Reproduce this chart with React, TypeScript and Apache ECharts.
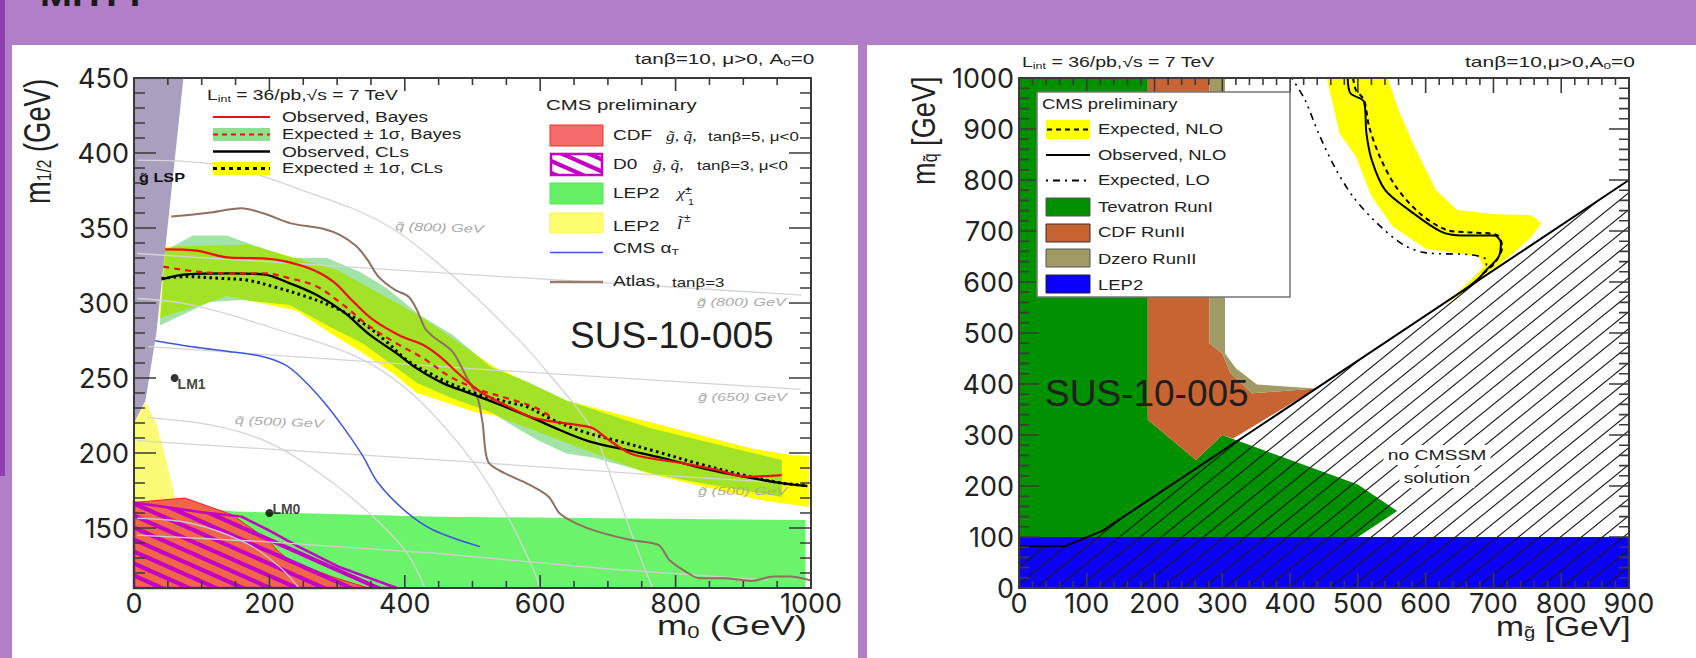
import React, { useEffect, useRef } from "react";
import * as echarts from "echarts";

type P = [number, number];

// ---------- left plot (m0, m1/2) ----------
const leftXMajor = [0, 200, 400, 600, 800, 1000];
const leftXMinor = [50, 100, 150, 250, 300, 350, 450, 500, 550, 650, 700, 750, 850, 900, 950];
const leftYMajor = [150, 200, 250, 300, 350, 400, 450];
const leftYMinor = [110, 120, 130, 140, 160, 170, 180, 190, 210, 220, 230, 240, 260, 270, 280, 290, 310, 320, 330, 340, 360, 370, 380, 390, 410, 420, 430, 440];
const lspRegion: P[] = [[0, 450], [73, 450], [33, 280], [17, 235], [0, 220]];
const lepStop: P[] = [[0, 220], [17, 234], [33, 220], [49, 193], [60, 171], [60, 165], [0, 165]];
const lepChargino: P[] = [[0, 110], [992, 110], [992, 155.3], [450, 157.5], [150, 161], [60, 165], [0, 165]];
const cdfRegion: P[] = [[0, 167], [75, 170], [144, 159], [198, 142], [213, 134.6], [228, 129], [267, 122], [292, 117.6], [346, 110], [0, 110]];
const d0Region: P[] = [[0, 167], [100, 160.5], [159, 157.6], [198, 148.7], [243, 137.6], [302, 124.2], [388, 110], [0, 110]];
const yellowUpper: P[] = [[46, 337.5], [168, 339], [216, 333], [300, 322], [420, 292], [530, 258], [639, 235], [912, 203], [969, 198.7], [997, 198]];
const yellowLower: P[] = [[997, 164], [921, 169], [758, 186.5], [531, 225.3], [506, 227], [418, 240], [383, 253], [338, 266.7], [290, 280], [240, 295], [137, 304.7], [112, 300.7], [38, 290]];
const greenUpper: P[] = [[46, 335], [87, 345], [137, 345], [176, 338.6], [235, 330], [285, 330], [334, 320.7], [373, 310], [422, 292], [471, 278.6], [526, 257.6], [585, 246.6], [639, 235], [762, 216.6], [957, 195.3]];
const greenLower: P[] = [[957, 170.7], [836, 180], [762, 186.6], [678, 197], [639, 199.6], [600, 207.6], [565, 216.6], [530, 226.6], [467, 237], [418, 246.6], [338, 273], [290, 284], [230, 298.7], [157, 302], [112, 300.7], [38, 285]];
const observedBayes: P[] = [[46, 335.8], [92.6, 334.9], [142, 330.2], [191, 329.8], [225.5, 327.6], [265, 322], [294.5, 314.2], [324, 300.9], [353.5, 288.7], [393, 278.2], [427.4, 272], [452, 264.2], [481.6, 252], [511, 241], [550.5, 231.5], [585, 224.2], [619.4, 220.9], [654, 218.7], [678.5, 216.4], [698, 209.8], [732.7, 199.8], [762, 196.5], [811.5, 193.1], [860.7, 188.7], [905, 184.2], [956.7, 185.3]];
const expectedBayes: P[] = [[43.3, 324.2], [92.6, 320.9], [142, 319.8], [191, 319.8], [230.5, 316.4], [270, 311], [309, 298.7], [348.6, 284.2], [388, 273], [427.4, 263.1], [467, 250.9], [511, 242], [555, 236], [595, 229.8], [619.4, 223]];
const observedCLs: P[] = [[40.9, 315.8], [77.8, 319.1], [142, 319.8], [191, 319.1], [230.5, 313.1], [270, 305.3], [309, 294.2], [348.6, 278.7], [388, 266.4], [417.6, 256.4], [457, 246.4], [496.4, 239.8], [535.8, 233], [590, 223.1], [629, 215.3], [673.6, 207.6], [727.8, 202], [782, 196.5], [841, 189.8], [900, 184.2], [959, 179.8], [994.7, 178]];
const expectedCLs: P[] = [[40.9, 316.4], [77.8, 317.6], [127, 316.4], [166.4, 315.3], [205.8, 310.9], [255, 304.2], [299.4, 296.4], [338.8, 286.4], [373, 274.2], [402.8, 262], [437, 253.1], [467, 246.4], [511, 238.7], [560, 233.1], [580, 230.9], [619.4, 222], [663.8, 214.2], [718, 207.6], [772, 200.9], [841, 192], [900, 185.3], [959, 179.8], [995, 178.5]];
const atlas: P[] = [[55, 357.6], [110, 360.2], [158.6, 363.1], [191, 359.8], [231.6, 353.1], [276, 349.8], [304.7, 345.3], [329, 337.6], [345, 328.7], [361, 317.6], [385.5, 308.7], [405.7, 304.2], [418, 295.3], [430, 283], [442, 277.5], [470.5, 267.6], [490.8, 250.9], [507, 237.6], [515, 219.8], [523, 194.2], [547.6, 186.5], [580, 179.8], [612.4, 170.9], [628.6, 159.8], [653, 153.1], [685, 147.6], [734, 142], [774.6, 138.7], [790.8, 128.7], [815, 120.9], [835, 116.5], [871.6, 116.5], [912, 114.7], [944.6, 117.6], [969, 117.6], [1000, 115]];
const cmsAlphaT: P[] = [[31.4, 274.9], [85.7, 270.9], [150.6, 267.1], [191, 264.2], [223.5, 258.7], [247.8, 249.8], [280, 234.2], [308.5, 217.6], [337, 198.7], [361, 179.8], [401.7, 160.9], [442, 148.7], [511, 137.6]];
const squark800: P[] = [[4.6, 395.3], [126, 392], [248, 375.3], [369, 353], [466.3, 319.8], [563.8, 277.6], [612.4, 253], [677, 215.3], [709.6, 177.6], [740, 140], [766, 110]];
const squark650: P[] = [[4.6, 303], [85.7, 298.7], [207, 283], [328.7, 264.2], [410, 239.8], [499, 195.3], [552, 157.6], [588, 124.2], [600, 110]];
const squark500: P[] = [[21, 223.6], [126, 217.6], [207, 205.3], [288, 182], [353, 157.6], [401.7, 134.2], [430, 110]];
const squark400: P[] = [[5, 156.5], [85.7, 153], [166.4, 139.8], [215, 124.2], [243.5, 110]];
const gluino800: P[] = [[4.6, 333], [466, 319.8], [985.6, 305.3]];
const gluino650: P[] = [[21, 270.9], [531, 255.3], [985, 242.4]];
const gluino500: P[] = [[4.6, 208.2], [490.8, 194.2], [774.5, 185.3], [969, 179.8]];
const gluino350: P[] = [[4.6, 145.3], [191, 140.9], [450, 133], [693, 123], [936, 115.3]];
const lm1: [number, number] = [60, 250];
const lm0: [number, number] = [200, 160];

// ---------- right plot (m_gluino, m_squark) ----------
const rightXMajor = [0, 100, 200, 300, 400, 500, 600, 700, 800, 900];
const rightXMinor = [20, 40, 60, 80, 120, 140, 160, 180, 220, 240, 260, 280, 320, 340, 360, 380, 420, 440, 460, 480, 520, 540, 560, 580, 620, 640, 660, 680, 720, 740, 760, 780, 820, 840, 860, 880];
const rightYMajor = [0, 100, 200, 300, 400, 500, 600, 700, 800, 900, 1000];
const rightYMinor = [20, 40, 60, 80, 120, 140, 160, 180, 220, 240, 260, 280, 320, 340, 360, 380, 420, 440, 460, 480, 520, 540, 560, 580, 620, 640, 660, 680, 720, 740, 760, 780, 820, 840, 860, 880, 920, 940, 960, 980];
const tevatron: P[] = [[0, 1000], [190, 1000], [190, 330], [261, 251], [300, 300], [500, 203], [558, 151], [500, 100], [0, 100]];
const cdfRun2: P[] = [[190, 1000], [281, 1000], [281, 480], [300, 460], [312, 421], [344, 382], [438, 391], [316, 293], [300, 300], [261, 251], [190, 330]];
const dzeroRun2: P[] = [[281, 1000], [304, 1000], [304, 460], [320, 431], [351, 399], [438, 391], [344, 382], [312, 421], [300, 460], [281, 480]];
const lep2Blue: P[] = [[0, 0], [900, 0], [900, 100], [0, 100]];
const noSolution: P[] = [[0, 82], [68, 82], [123, 112], [900, 800], [900, 0], [0, 0]];
const noSolutionEdge: P[] = [[0, 82], [68, 82], [123, 112], [900, 800]];
const nloBand: P[] = [[454, 1000], [473, 891.5], [497, 846], [520.5, 767], [552, 708.5], [599, 666], [678, 650], [686, 630], [631, 558], [646, 571], [697.5, 623.6], [729, 656], [756.5, 689], [770.6, 715], [756.5, 731], [701.5, 733], [646.4, 741], [615, 780.5], [583.5, 865], [560, 937], [544, 1000]];
const observedNLO: P[] = [[485, 1000], [489, 970], [509, 953.6], [512.6, 891.5], [520.5, 839], [540, 780.5], [575.6, 741], [622.8, 698.7], [654, 691], [701.5, 691], [711, 676], [707.7, 649.7], [689.6, 623.6], [678, 607], [654, 581]];
const expectedNLO: P[] = [[493, 1000], [497, 976.5], [509, 957], [516.6, 904.6], [532.3, 846], [556, 787], [591, 735], [630.7, 702], [670, 697], [705.4, 692], [713, 669], [701.5, 636.7], [681.8, 613.8]];
const expectedLO: P[] = [[402.5, 1000], [422, 957], [442, 891.5], [465.5, 826], [493, 767], [528.4, 715], [567.7, 672.6], [599, 657.6], [670, 653], [689.6, 643], [689.6, 630]];

const SANS = "Liberation Sans";
const AXIS_FONT = "Inter";
const AXIS = "#3a3a3a";

function stripes(w: number, h: number, lw: number, color: string, phase: number, up: boolean, bg?: string) {
  const c = document.createElement("canvas");
  c.width = w;
  c.height = h;
  const g = c.getContext("2d")!;
  if (bg) {
    g.fillStyle = bg;
    g.fillRect(0, 0, w, h);
  }
  g.strokeStyle = color;
  g.lineWidth = lw;
  for (let k = -4; k <= 4; k++) {
    const o = (k + phase) * w;
    g.beginPath();
    if (up) {
      g.moveTo(o - w, 2 * h);
      g.lineTo(o + 2 * w, -h);
    } else {
      g.moveTo(o - w, -h);
      g.lineTo(o + 2 * w, 2 * h);
    }
    g.stroke();
  }
  return { image: c, repeat: "repeat" };
}

function poly(pts: P[], grid: number, fill: any, extra: any = {}) {
  return {
    type: "custom",
    xAxisIndex: grid * 2,
    yAxisIndex: grid * 2,
    silent: true,
    data: pts,
    encode: { x: 0, y: 1 },
    renderItem: (params: any, api: any) => {
      if (params.dataIndex !== 0) return undefined;
      return {
        type: "polygon",
        shape: { points: pts.map((d) => api.coord(d)) },
        style: { fill, ...extra },
      };
    },
  };
}

function curve(pts: any[], grid: number, color: string, width: number, type: any = "solid", smooth: number = 0.35) {
  return {
    type: "line",
    xAxisIndex: grid * 2,
    yAxisIndex: grid * 2,
    silent: true,
    data: pts,
    showSymbol: false,
    smooth,
    lineStyle: { color, width, type, cap: "butt" },
  };
}

// Tick marks as broken line series in data units, on all four sides of a plot.
// xLen and yLen are tick lengths expressed in the units of the crossing axis.
function tickMarks(grid: number, xs: number[][], ys: number[][], xr: P, yr: P, xLen: P, yLen: P) {
  const data: any[] = [];
  const gap = ["-", "-"];
  xs.forEach((vals, i) =>
    vals.forEach((v) => {
      data.push([v, yr[0]], [v, yr[0] + xLen[i]], gap, [v, yr[1]], [v, yr[1] - xLen[i]], gap);
    })
  );
  ys.forEach((vals, i) =>
    vals.forEach((v) => {
      data.push([xr[0], v], [xr[0] + yLen[i], v], gap, [xr[1], v], [xr[1] - yLen[i], v], gap);
    })
  );
  return { ...curve(data, grid, AXIS, 1.6, "solid", 0), connectNulls: false, z: 5 };
}

function txt(text: string, x: number, y: number, size: number, o: any = {}) {
  return {
    type: "text",
    x,
    y,
    z: 102,
    silent: true,
    scaleX: o.sx ?? 1,
    scaleY: o.sy ?? 1,
    rotation: o.rotation ?? 0,
    style: {
      text,
      fontSize: size,
      fontFamily: o.font ?? SANS,
      fontWeight: o.weight ?? "normal",
      fontStyle: o.italic ? "italic" : "normal",
      fill: o.color ?? "#222",
      align: o.align ?? "left",
      verticalAlign: o.valign ?? "middle",
      rich: o.rich,
      backgroundColor: o.bg,
      padding: o.padding,
    },
  };
}

function rect(x: number, y: number, w: number, h: number, fill: any, stroke?: string, lineWidth = 1, z = 102) {
  return { type: "rect", z, silent: true, shape: { x, y, width: w, height: h }, style: { fill, stroke, lineWidth } };
}
function seg(x1: number, x2: number, y: number, stroke: string, lineWidth: number, lineDash?: number[]) {
  return { type: "line", z: 103, silent: true, shape: { x1, y1: y, x2, y2: y }, style: { stroke, lineWidth, lineDash } };
}

function sub(size: number, subSize: number, drop: number, font = SANS, color = "#222") {
  return {
    a: { fontSize: size, fontFamily: font, fill: color, lineHeight: size + 2, verticalAlign: "top" },
    s: { fontSize: subSize, fontFamily: font, fill: color, lineHeight: size + 2 + 2 * drop, verticalAlign: "middle" },
  };
}

const axisLine = { show: true, onZero: false, lineStyle: { color: AXIS, width: 2 } };
const labelStyle = { color: "#222", fontFamily: AXIS_FONT, fontSize: 27, hideOverlap: false, formatter: (v: number) => String(v) };

function xAxes(grid: number, min: number, max: number, interval: number) {
  const base = { gridIndex: grid, type: "value", min, max, interval, z: 50, splitLine: { show: false }, axisLine, axisTick: { show: false } };
  return [
    { ...base, position: "bottom", axisLabel: { show: true, margin: 2, ...labelStyle } },
    { ...base, position: "top", axisLabel: { show: false } },
  ];
}

function yAxes(grid: number, min: number, max: number, majors: number[]) {
  const base = { gridIndex: grid, type: "value", min, max, z: 50, splitLine: { show: false }, axisLine, axisTick: { show: false } };
  return [
    { ...base, position: "left", axisLabel: { show: true, customValues: majors, margin: 5, ...labelStyle } },
    { ...base, position: "right", axisLabel: { show: false } },
  ];
}

export default function App() {
  const ref = useRef<HTMLDivElement>(null);
  useEffect(() => {
    document.body.style.margin = "0";
    document.body.style.overflow = "hidden";
    const chart = echarts.init(ref.current!, undefined, { renderer: "svg" });
    const d0Stripe = stripes(27, 12, 4.2, "#c400c4", 0, false);
    const d0Legend = stripes(27, 12, 4.2, "#c400c4", 0, false, "#ffffff");
    const hatch = stripes(21, 17, 1.1, "#1a1a1a", 0.9, true);
    const sc = 1.36;
    const graphic: any[] = [
      rect(0, 0, 5, 476, "#8f3fb0", undefined, 0, -9),
      rect(12, 45, 846, 613, "#ffffff", undefined, 0, -9),
      rect(867, 45, 829, 613, "#ffffff", undefined, 0, -9),
      txt("MHTT", 40, 11, 30, { valign: "bottom", weight: "bold", color: "#1a1a1a", sx: 1.28 }),

      // left plot texts
      txt("{a|tanβ=10, μ>0, A}{s|0}{a|=0}", 635, 63, 14, { sx: 1.48, rich: sub(14, 9, 3) }),
      txt("{a|L}{s|int}{a| = 36/pb,√s = 7 TeV}", 207, 99, 14, { sx: 1.38, rich: sub(14, 9, 3) }),
      seg(213, 270, 117, "#e81010", 2),
      txt("Observed, Bayes", 282, 117, 14, { sx: sc }),
      rect(213, 128, 57, 13, "#8ee08e"),
      seg(213, 270, 134.5, "#e81010", 2, [5, 4]),
      txt("Expected ± 1σ, Bayes", 282, 134, 14, { sx: sc - 0.05 }),
      seg(213, 270, 151.5, "#000", 2.5),
      txt("Observed, CLs", 282, 152, 14, { sx: sc }),
      rect(213, 162, 57, 13, "#ffff00"),
      seg(213, 270, 168.5, "#000", 3, [4, 4]),
      txt("Expected ± 1σ, CLs", 282, 168, 14, { sx: sc - 0.05 }),
      txt("CMS preliminary", 546, 105, 15, { sx: 1.36 }),
      rect(550, 125, 53, 21, "#f56a6a", "#f03030"),
      txt("CDF", 613, 135, 14, { sx: sc }),
      txt("g̃, q̃,", 666, 136, 14, { sx: 1.25, font: "Liberation Serif", italic: true }),
      txt("tanβ=5, μ<0", 708, 136, 13, { sx: 1.3 }),
      rect(551, 154, 51, 21, d0Legend, "#c400c4", 2.5),
      txt("D0", 613, 164, 14, { sx: sc }),
      txt("g̃, q̃,", 653, 165, 14, { sx: 1.25, font: "Liberation Serif", italic: true }),
      txt("tanβ=3, μ<0", 697, 165, 13, { sx: 1.3 }),
      rect(550, 183, 53, 21, "#66f066", "#55e855"),
      txt("LEP2", 613, 193, 14, { sx: sc }),
      txt("{a|χ̃}{s|±}", 677, 193, 15, { sx: 1.2, font: "Liberation Serif", rich: { a: { fontSize: 15, fontFamily: "Liberation Serif", fill: "#222", fontStyle: "italic" }, s: { fontSize: 10, fontFamily: SANS, fill: "#222", verticalAlign: "top" } } }),
      txt("1", 688, 202, 9, { sx: 1.2 }),
      rect(550, 213, 53, 20, "#fdfd70", "#f4f450"),
      txt("LEP2", 613, 226, 14, { sx: sc }),
      txt("l̃", 677, 224, 15, { sx: 1.2, font: "Liberation Serif", italic: true }),
      txt("±", 684, 218, 10, { sx: 1.2 }),
      seg(550, 603, 252.5, "#3d55e0", 1.5),
      txt("{a|CMS α}{s|T}", 613, 252, 14, { sx: sc, rich: sub(14, 9, 3) }),
      seg(550, 603, 282, "#9a7b6c", 2.5),
      txt("Atlas,", 613, 281, 14, { sx: sc }),
      txt("tanβ=3", 672, 282, 13, { sx: 1.3 }),
      txt("SUS-10-005", 570, 335, 37, { color: "#1f1f1f" }),
      txt("q̃ (800) GeV", 395, 226, 11.5, { sx: 1.42, italic: true, color: "#aaa", rotation: -0.03 }),
      txt("g̃ (800) GeV", 697, 302, 11.5, { sx: 1.42, italic: true, color: "#aaa" }),
      txt("g̃ (650) GeV", 698, 397, 11.5, { sx: 1.42, italic: true, color: "#aaa" }),
      txt("g̃ (500) GeV", 698, 491, 11.5, { sx: 1.42, italic: true, color: "#aaa" }),
      txt("q̃ (500) GeV", 235, 420, 11.5, { sx: 1.42, italic: true, color: "#aaa", rotation: -0.04 }),
      txt("g̃ LSP", 139, 178, 13, { weight: "bold", color: "#111", sx: 1.25 }),
      txt("{a|m}{s|1/2}{a| (GeV)}", 44, 204, 37, { sx: 0.74, rotation: Math.PI / 2, rich: sub(37, 21, 6) }),
      txt("{a|m}{s|0}{a| (GeV)}", 657, 632, 28, { sx: 1.3, rich: sub(28, 17, 5) }),

      // right plot legend
      rect(1037, 92, 253, 205, "#ffffff", "#777", 1.5, 101),
      txt("CMS preliminary", 1042, 104, 14, { sx: 1.31 }),
      rect(1046, 120, 44, 19, "#ffff00"),
      seg(1047, 1090, 129.5, "#000", 2, [5, 4]),
      txt("Expected, NLO", 1098, 129, 14, { sx: 1.32 }),
      seg(1046, 1090, 155, "#000", 2),
      txt("Observed, NLO", 1098, 155, 14, { sx: 1.32 }),
      seg(1046, 1088, 180.5, "#000", 2, [2, 5, 7, 5]),
      txt("Expected, LO", 1098, 180, 14, { sx: 1.32 }),
      rect(1046, 198, 44, 18, "#009000", "#555"),
      txt("Tevatron RunI", 1098, 207, 14, { sx: 1.32 }),
      rect(1046, 224, 44, 18, "#c86432", "#333"),
      txt("CDF RunII", 1098, 232, 14, { sx: 1.32 }),
      rect(1046, 249, 44, 18, "#a09a64", "#555"),
      txt("Dzero RunII", 1098, 259, 14, { sx: 1.32 }),
      rect(1046, 275, 44, 18, "#0a00fb", "#222"),
      txt("LEP2", 1098, 285, 14, { sx: 1.32 }),
      txt("{a|L}{s|int}{a| = 36/pb,√s = 7 TeV}", 1022, 66, 14, { sx: 1.39, rich: sub(14, 9, 3) }),
      txt("{a|tanβ=10,μ>0,A}{s|0}{a|=0}", 1465, 66, 14, { sx: 1.5, rich: sub(14, 9, 3) }),
      txt("SUS-10-005", 1045, 393, 37, { color: "#1f1f1f" }),
      txt("no CMSSM", 1437, 455, 14, { sx: 1.38, align: "center", bg: "#fff", padding: [3, 3] }),
      txt("solution", 1437, 478, 14, { sx: 1.38, align: "center", bg: "#fff", padding: [3, 3] }),
      txt("{a|m}{s|q̃}{a| [GeV]}", 930, 185, 34, { sx: 0.8, rotation: Math.PI / 2, rich: sub(34, 20, 6) }),
      txt("{a|m}{s|g̃}{a| [GeV]}", 1496, 632, 28, { sx: 1.2, rich: sub(28, 17, 5) }),
    ];

    const gray = "#d4d4d4";
    const left = 0;
    const right = 1;
    const benchLabel = { show: true, formatter: "{b}", color: "#111", fontFamily: SANS, fontWeight: "bold", fontSize: 14 };
    const series: any[] = [
      poly(lepStop, left, "#fbfb78"),
      poly(lepChargino, left, "#6cf36c"),
      poly(cdfRegion, left, "#ef6648", { stroke: "#ee2020", lineWidth: 1 }),
      poly(d0Region, left, d0Stripe, { stroke: "#c400c4", lineWidth: 2.5 }),
      curve(squark800, left, gray, 1.3),
      curve(squark650, left, gray, 1.3),
      curve(squark500, left, gray, 1.3),
      curve(squark400, left, "#cfc0d8", 1.3),
      curve(gluino800, left, gray, 1.3, "solid", 0),
      curve(gluino650, left, gray, 1.3, "solid", 0),
      curve(gluino500, left, gray, 1.3, "solid", 0),
      curve(gluino350, left, "#cfcfcf", 1.3, "solid", 0),
      poly([...yellowUpper, ...yellowLower], left, "#ffff00"),
      curve(atlas, left, "#8f6f60", 2, "solid", 0.3),
      curve(observedCLs, left, "#000", 2.3),
      curve(expectedCLs, left, "#000", 3, [2.5, 3.5]),
      poly([...greenUpper, ...greenLower], left, "rgba(70,200,80,0.5)"),
      curve(cmsAlphaT, left, "#3d55e0", 1.5),
      curve(observedBayes, left, "#ee1010", 2.2),
      curve(expectedBayes, left, "#ee1010", 2.2, [6, 5]),
      poly(lspRegion, left, "#a8a0be"),
      {
        type: "scatter",
        xAxisIndex: 0,
        yAxisIndex: 0,
        silent: true,
        symbolSize: 8,
        itemStyle: { color: "#000" },
        data: [
          { value: lm1, name: "LM1", label: { ...benchLabel, position: [7, 3] } },
          { value: lm0, name: "LM0", label: { ...benchLabel, position: [7, -7] } },
        ],
      },
      tickMarks(left, [leftXMajor, leftXMinor], [leftYMajor, leftYMinor], [0, 1000], [110, 450], [8.7, 4.7], [32.5, 16.2]),

      poly(tevatron, right, "#009000"),
      poly(cdfRun2, right, "#c86432"),
      poly(dzeroRun2, right, "#a09a64"),
      poly(lep2Blue, right, "#0a00fb"),
      poly(nloBand, right, "#ffff00"),
      poly(noSolution, right, hatch),
      curve(noSolutionEdge, right, "#000", 2, "solid", 0),
      curve(expectedLO, right, "#000", 1.6, [2, 5, 2, 5, 7, 5], 0.3),
      curve(observedNLO, right, "#000", 2, "solid", 0.3),
      curve(expectedNLO, right, "#000", 2, [5, 4], 0.3),
      tickMarks(right, [rightXMajor, rightXMinor], [rightYMajor, rightYMinor], [0, 900], [0, 1000], [29.4, 13.7], [29.5, 14.7]),
    ];

    chart.setOption({
      animation: false,
      backgroundColor: "#b37ec8",
      tooltip: { show: false },
      grid: [
        { left: 134, top: 78, width: 677, height: 510 },
        { left: 1019, top: 78, width: 610, height: 510 },
      ],
      xAxis: [...xAxes(0, 0, 1000, 200), ...xAxes(1, 0, 900, 100)],
      yAxis: [...yAxes(0, 110, 450, leftYMajor), ...yAxes(1, 0, 1000, rightYMajor)],
      graphic: { elements: graphic },
      series,
    });
    return () => chart.dispose();
  }, []);
  return <div ref={ref} style={{ width: 1696, height: 658 }} />;
}
